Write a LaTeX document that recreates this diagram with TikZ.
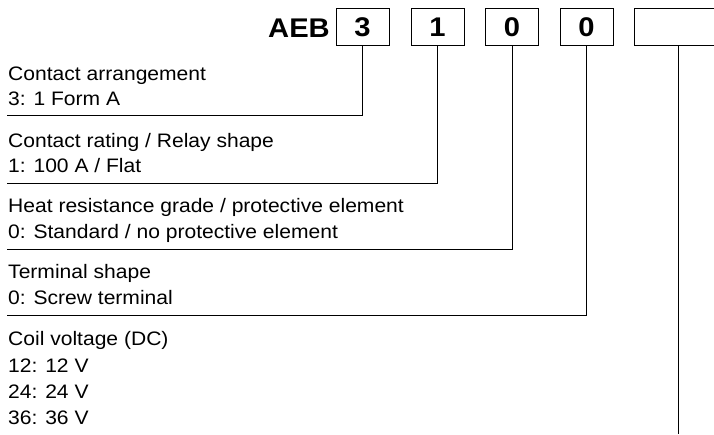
\documentclass[tikz,border=0pt]{standalone}
\usepackage{fontspec}
\setmainfont{Liberation Sans}[FakeStretch=1.08]

\tikzset{
  digitbox/.style={draw, line width=0.8pt, minimum width=53pt, minimum height=37pt, inner sep=0pt, font=\fontsize{27}{27}\selectfont\bfseries},
  txt/.style={anchor=base west, inner sep=0pt, font=\fontsize{19.5}{26}\selectfont},
  lead/.style={line width=0.8pt}
}

\begin{document}
\begin{tikzpicture}[x=1pt, y=-1pt]
    \useasboundingbox (0,0) rectangle (714,434);
    \node[anchor=base east, inner sep=0pt, font=\fontsize{27}{27}\selectfont\bfseries] (code) at (330,37) {AEB};
    \node[digitbox] (b1) at (362.5,27) {3};
    \node[digitbox] (b2) at (437.5,27) {1};
    \node[digitbox] (b3) at (512,27) {0};
    \node[digitbox] (b4) at (586.5,27) {0};
    \node[digitbox, minimum width=88pt] (b5) at (678,27) {};
    \node[txt] (t1a) at (8,80) {Contact arrangement};
    \node[txt] (t1b) at (8,105) {3: 1 Form A};
    \node[txt] (t2a) at (8,147) {Contact rating / Relay shape};
    \node[txt] (t2b) at (8,172) {1: 100 A / Flat};
    \node[txt] (t3a) at (8,212) {Heat resistance grade / protective element};
    \node[txt] (t3b) at (8,238) {0: Standard / no protective element};
    \node[txt] (t4a) at (8,278) {Terminal shape};
    \node[txt] (t4b) at (8,304) {0: Screw terminal};
    \node[txt] (t5a) at (8,345) {Coil voltage (DC)};
    \node[txt] (t5b) at (8,372) {12: 12 V};
    \node[txt] (t5c) at (8,398) {24: 24 V};
    \node[txt] (t5d) at (8,424) {36: 36 V};
    \coordinate (l1) at (7,115);
    \coordinate (l2) at (7,183);
    \coordinate (l3) at (7,249);
    \coordinate (l4) at (7,315);
    \coordinate (l5) at (678,434);
    \draw[lead] (b1.south) |- (l1);
    \draw[lead] (b2.south) |- (l2);
    \draw[lead] (b3.south) |- (l3);
    \draw[lead] (b4.south) |- (l4);
    \draw[lead] (b5.south) -- (l5);
  \end{tikzpicture}
\end{document}
